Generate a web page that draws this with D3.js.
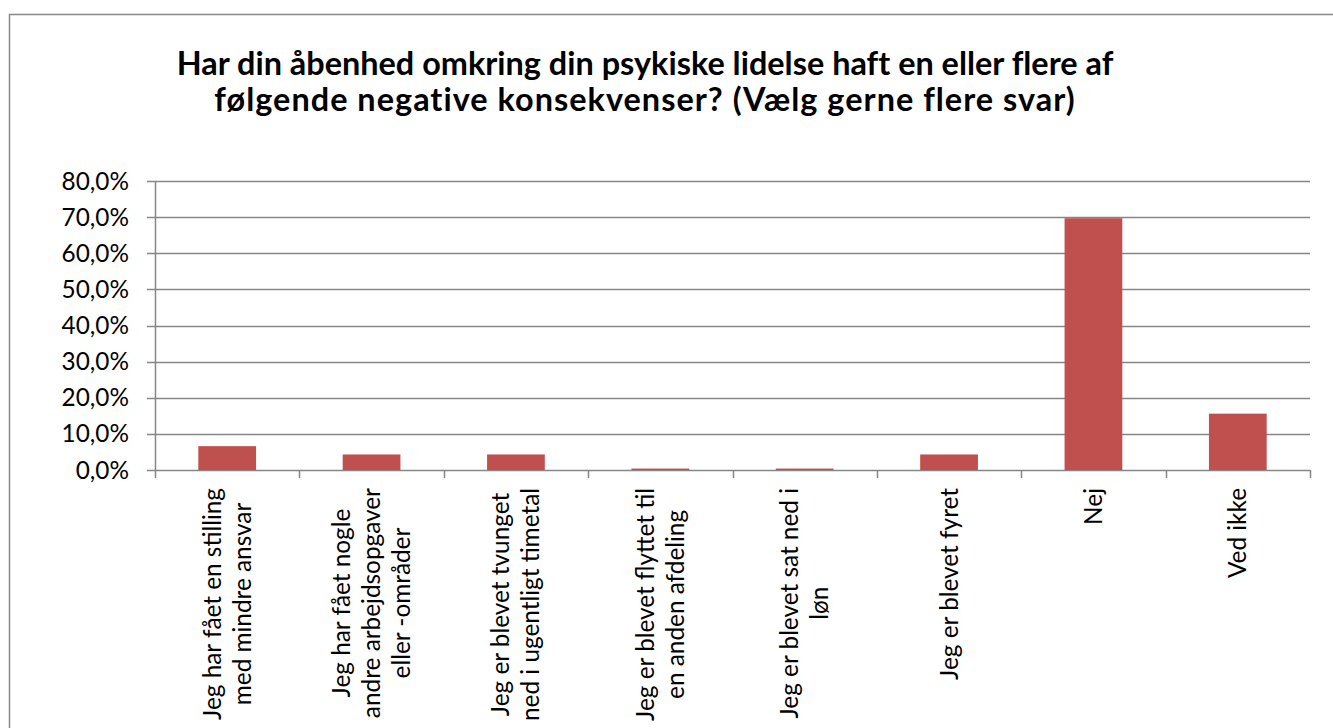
<!DOCTYPE html>
<html>
<head>
<meta charset="utf-8">
<script src="https://cdn.jsdelivr.net/npm/d3@7"></script>
<style>
  body { margin: 0; background: #fff; overflow: hidden; }
  text { font-family: Lato, "Liberation Sans", sans-serif; fill: #000; }
</style>
</head>
<body>
<div id="chart"></div>
<script>
// data
const titleLines = [
  "Har din åbenhed omkring din psykiske lidelse haft en eller flere af",
  "følgende negative konsekvenser? (Vælg gerne flere svar)"
];
const categories = [
  ["Jeg har fået en stilling", "med mindre ansvar"],
  ["Jeg har fået nogle", "andre arbejdsopgaver", "eller -områder"],
  ["Jeg er blevet tvunget", "ned i ugentligt timetal"],
  ["Jeg er blevet flyttet til", "en anden afdeling"],
  ["Jeg er blevet sat ned i", "løn"],
  ["Jeg er blevet fyret"],
  ["Nej"],
  ["Ved ikke"]
];
const values = [6.6, 4.3, 4.3, 0.4, 0.4, 4.3, 69.7, 15.6];
const yTicks = [0, 10, 20, 30, 40, 50, 60, 70, 80];

var width = 1333, height = 728;
var plot = { left: 155, right: 1310, top: 181, bottom: 470 };
var gridColor = "#868686", barColor = "#C0504D";

var svg = d3.select("#chart").append("svg")
  .attr("width", width)
  .attr("height", height);

// chart area border (runs off the right and bottom of the picture)
svg.append("rect")
  .attr("x", 9.5).attr("y", 14.5)
  .attr("width", 1400).attr("height", 800)
  .attr("fill", "none")
  .attr("stroke", "#898989")
  .attr("stroke-width", 1.5);

// title: Lato stands in for Calibri, so size it to the widths seen in the reference
var titleWidths = [936, 862];
var title = svg.append("g");
var t1 = title.append("text")
  .attr("font-weight", "bold")
  .attr("font-size", 30)
  .text(titleLines[0]);
var titleSize = 30 * titleWidths[0] / t1.node().getComputedTextLength();
t1.remove();
titleLines.forEach(function (line, i) {
  var t = title.append("text")
    .attr("x", 645)
    .attr("y", 75 + i * 36)
    .attr("text-anchor", "middle")
    .attr("font-weight", "bold")
    .attr("font-size", titleSize)
    .text(line);
  var extra = titleWidths[i] - t.node().getComputedTextLength();
  if (extra > 0) t.attr("letter-spacing", extra / line.length);
});

// label font size: make Lato cover the width Calibri does in the reference
var probe = svg.append("text").attr("font-size", 26).text(categories[0][0]);
var labelSize = 26 * 232 / probe.node().getComputedTextLength();
probe.remove();

var x = d3.scaleBand()
  .domain(d3.range(categories.length))
  .range([plot.left, plot.right])
  .padding(0);

var y = d3.scaleLinear()
  .domain([0, 80])
  .range([plot.bottom, plot.top]);

// gridlines
svg.append("g")
  .selectAll("line")
  .data(yTicks)
  .enter().append("line")
  .attr("x1", plot.left - 8)
  .attr("x2", plot.right)
  .attr("y1", function (d) { return Math.round(y(d)) + 0.5; })
  .attr("y2", function (d) { return Math.round(y(d)) + 0.5; })
  .attr("stroke", gridColor)
  .attr("stroke-width", 1.5);

// y tick labels
svg.append("g")
  .selectAll("text")
  .data(yTicks)
  .enter().append("text")
  .attr("x", plot.left - 26)
  .attr("y", function (d) { return y(d); })
  .attr("dy", "0.35em")
  .attr("text-anchor", "end")
  .attr("font-size", labelSize)
  .text(function (d) { return d.toFixed(1).replace(".", ",") + "%"; });

// bars
var barW = x.bandwidth() * 0.4;
svg.append("g")
  .selectAll("rect")
  .data(values)
  .enter().append("rect")
  .attr("x", function (d, i) { return x(i) + (x.bandwidth() - barW) / 2; })
  .attr("y", function (d) { return y(d); })
  .attr("width", barW)
  .attr("height", function (d) { return y(0) - y(d); })
  .attr("fill", barColor);

// y axis line
svg.append("line")
  .attr("x1", plot.left + 0.5).attr("x2", plot.left + 0.5)
  .attr("y1", plot.top).attr("y2", plot.bottom)
  .attr("stroke", gridColor).attr("stroke-width", 1.5);

// x axis ticks at category boundaries
svg.append("g")
  .selectAll("line")
  .data(d3.range(categories.length + 1))
  .enter().append("line")
  .attr("x1", function (d) { return Math.round(plot.left + d * x.step()) + 0.5; })
  .attr("x2", function (d) { return Math.round(plot.left + d * x.step()) + 0.5; })
  .attr("y1", plot.bottom)
  .attr("y2", plot.bottom + 8)
  .attr("stroke", gridColor)
  .attr("stroke-width", 1.5);

// rotated category labels, block centred on the category, end at the top
var lineGap = 30;
var labels = svg.append("g")
  .selectAll("text")
  .data(categories)
  .enter().append("text")
  .attr("font-size", labelSize)
  .attr("transform", function (d, i) {
    return "translate(" + (x(i) + x.bandwidth() / 2) + "," + 488 + ")rotate(-90)";
  });

labels.each(function (lines) {
  var el = d3.select(this);
  var n = lines.length;
  lines.forEach(function (line, j) {
    el.append("tspan")
      .attr("x", 0)
      .attr("y", (j - (n - 1) / 2) * lineGap)
      .attr("dy", "0.35em")
      .attr("text-anchor", "middle")
      .text(line);
  });
});

// lines are centred on each other; the longest one ends just under the axis
labels.each(function () {
  var spans = d3.select(this).selectAll("tspan");
  var maxLen = 0;
  spans.each(function () { maxLen = Math.max(maxLen, this.getComputedTextLength()); });
  spans.attr("x", -maxLen / 2);
});
</script>
</body>
</html>
